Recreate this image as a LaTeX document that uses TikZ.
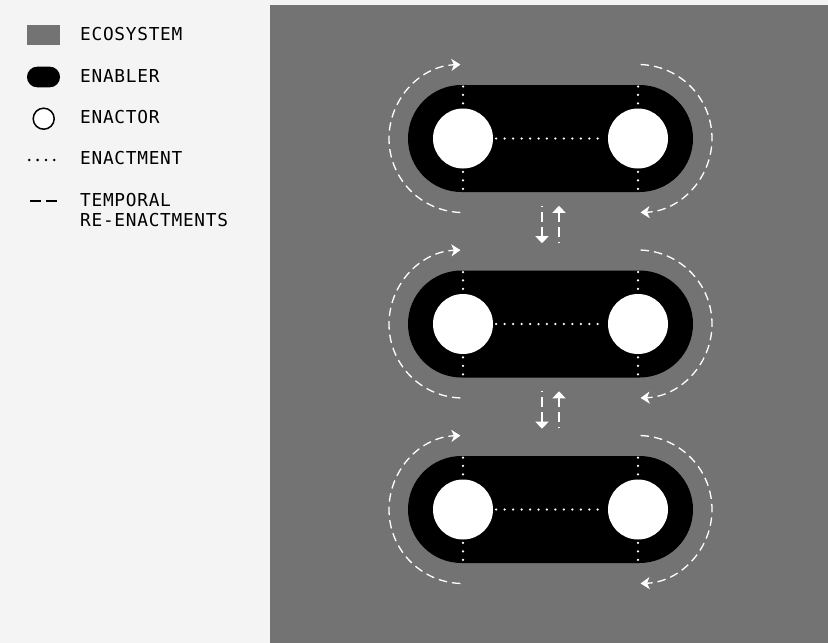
\documentclass[tikz,border=0pt]{standalone}
\usepackage{fontspec}
\newfontfamily\legendfont[LetterSpace=4]{DejaVu Sans Mono}
\usetikzlibrary{arrows.meta}
\definecolor{paper}{HTML}{F4F4F4}
\definecolor{eco}{HTML}{737373}

\begin{document}
\begin{tikzpicture}[
    x=1pt, y=-1pt,
    enabler/.style={fill=black, rounded corners=53.5pt, inner sep=0pt,
                    minimum width=285pt, minimum height=107pt},
    enactor/.style={circle, fill=white, inner sep=0pt, minimum size=60pt},
    enact/.style={white, line width=2.5pt, line cap=round,
                  dash pattern=on 0pt off 8.46pt},
    reen/.style={white, line width=1.3pt, dash pattern=on 8.5pt off 5pt,
                 -{Stealth[length=9pt,width=12pt,inset=2.5pt]}},
    vert/.style={white, line width=1.4pt, dash pattern=on 10pt off 5pt,
                 dash phase=9pt, -{Triangle[length=7pt,width=13pt]}},
    labl/.style={anchor=west, inner sep=0pt, align=left,
                 font=\fontsize{17.8}{20}\legendfont}
  ]
  \useasboundingbox (0,0) rectangle (828,643);
  %% --- Panels ---
  \fill[paper] (0,0) rectangle (828,643);
  \fill[eco] (270,5) rectangle (828,643);

  %% --- Legend ---
  \node[fill=eco, inner sep=0pt, minimum width=33pt, minimum height=20.5pt]
        (keco) at (43.5,35) {};
  \node[labl] (teco) at (80,34.4) {ECOSYSTEM};
  \node[fill=black, rounded corners=10.3pt, inner sep=0pt,
        minimum width=33pt, minimum height=20.7pt] (kenb) at (43.5,77) {};
  \node[labl] (tenb) at (80,75.8) {ENABLER};
  \node[circle, draw=black, line width=1.5pt, fill=white, inner sep=0pt,
        minimum size=21pt] (kenc) at (43.7,118.7) {};
  \node[labl] (tenc) at (80,116.7) {ENACTOR};
  % dotted key
  \coordinate (kdot1) at (29.3,160);
  \coordinate (kdot2) at (54.6,160);
  \draw[enact, black, line width=2.8pt, dash pattern=on 0pt off 8.33pt]
        (kdot1) -- (kdot2);
  \node[labl] (tenm) at (80,158.3) {ENACTMENT};
  % dashed key
  \coordinate (kdsh1) at (30,200.7);
  \coordinate (kdsh2) at (56.5,200.7);
  \draw[black, line width=1.9pt, dash pattern=on 10.5pt off 5.5pt]
        (kdsh1) -- (kdsh2);
  \node[labl] (ttmp) at (80,210) {TEMPORAL\\RE-ENACTMENTS};

  %% --- Enablers with their enactors ---
  \foreach \r/\y in {1/138.5, 2/324, 3/509.5} {
    \node[enabler] (en\r) at (550.5,\y) {};
    \node[enactor] (l\r) at (463,\y) {};
    \node[enactor] (r\r) at (638,\y) {};
    % enactments
    \draw[enact, shorten <=3pt, shorten >=2pt] (l\r.east) -- (r\r.west);
    \draw[enact, shorten <=1.7pt] (l\r.north |- en\r.north) -- (l\r.north);
    \draw[enact, shorten <=3.2pt] (l\r.south) -- (l\r.south |- en\r.south);
    \draw[enact, shorten <=1.7pt] (r\r.north |- en\r.north) -- (r\r.north);
    \draw[enact, shorten <=3.2pt] (r\r.south) -- (r\r.south |- en\r.south);
    % temporal re-enactments
    \draw[reen] ([shift={(92:74)}]l\r.center)
          arc[start angle=92, end angle=268, radius=74];
    \draw[reen] ([shift={(-88:74)}]r\r.center)
          arc[start angle=-88, end angle=88, radius=74];
  }

  %% --- Between enablers ---
  \foreach \a/\b in {1/2, 2/3} {
    \draw[vert, shorten <=13.6pt, shorten >=27.1pt]
          ([xshift=-8.5pt]en\a.south) -- ([xshift=-8.5pt]en\b.north);
    \draw[vert, shorten <=27.4pt, shorten >=13.6pt]
          ([xshift=8.5pt]en\b.north) -- ([xshift=8.5pt]en\a.south);
  }
\end{tikzpicture}
\end{document}
